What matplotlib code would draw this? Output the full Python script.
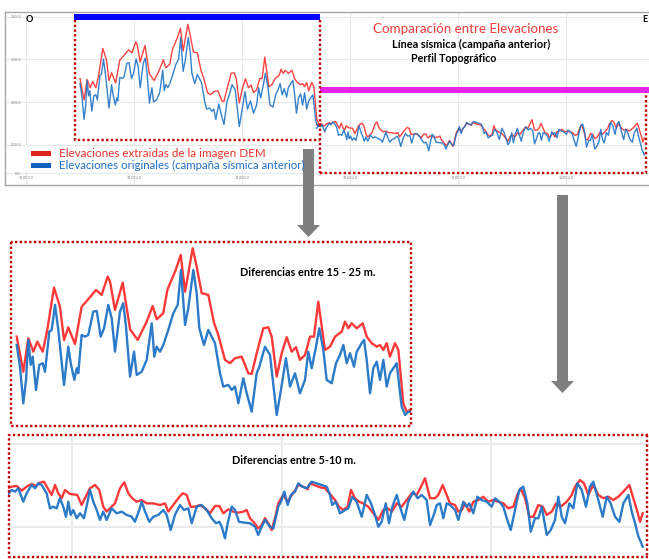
import matplotlib
matplotlib.use("Agg")
import matplotlib.pyplot as plt
from matplotlib.patches import Rectangle, Polygon

plt.rcParams['font.family'] = ['Lato', 'DejaVu Sans']

# ---------------- data (distance, elevation m) ----------------
# Segment A (western part) - DEM elevations (red)
seg_a_dem = [(11100, 277.6), (11107.5, 252.4), (11113.2, 276.4), (11118.8, 266.8), (11123.4, 274.0),
             (11129.5, 266.8), (11134.7, 282.4), (11142.3, 312.8), (11149.1, 299.1), (11153.7, 275.2),
             (11158.5, 284.3), (11166.1, 272.3), (11173.7, 299.1), (11181.2, 304.5), (11190.0, 311.1),
             (11196.4, 307.6), (11203.2, 320.7), (11205.9, 317.1), (11211.5, 296.8), (11220.3, 316.4),
             (11228.6, 282.9), (11237.3, 275.2), (11247.5, 288.4), (11254.3, 299.6), (11258.8, 290.1),
             (11266.3, 294.4), (11270.9, 311.1), (11280.4, 325.5), (11286.1, 336.3), (11291.0, 309.9),
             (11299.7, 341.1), (11304.2, 327.9), (11309.9, 308.8), (11317.4, 307.6), (11323.9, 287.4),
             (11328.7, 278.8), (11336.3, 260.9), (11342.0, 258.5), (11347.7, 262.1), (11355.3, 263.2),
             (11362.8, 251.3), (11366.6, 250.8), (11372.3, 265.7), (11379.8, 283.6), (11385.5, 284.3),
             (11389.3, 277.6), (11395.0, 248.9), (11400.7, 265.7), (11406.3, 277.2), (11412.0, 266.8),
             (11416.9, 270.0), (11421.4, 260.9), (11427.1, 264.4), (11432.8, 277.6), (11437.3, 277.6),
             (11442.2, 302.7), (11449.8, 268.0), (11455.5, 270.4), (11461.2, 277.6), (11468.7, 281.2),
             (11472.5, 288.4), (11476.2, 283.6), (11480.1, 287.2), (11485.8, 283.6), (11492.6, 287.2),
             (11497.1, 277.6), (11502.8, 272.9), (11508.5, 270.4), (11512.2, 271.6), (11516.0, 268.0),
             (11519.8, 272.9), (11523.5, 263.2), (11529.2, 272.9), (11533.0, 268.0), (11538.6, 229.7),
             (11542.5, 223.7), (11546.2, 224.9)]

# Segment A - original survey elevations (blue)
seg_a_orig = [(11100, 271.6), (11103.7, 256.0), (11107.5, 229.7), (11110.6, 246.5), (11113.2, 275.2),
              (11115.9, 257.3), (11118.2, 263.2), (11121.9, 239.3), (11125.6, 257.3), (11129.5, 258.5),
              (11132.1, 252.4), (11137.0, 281.2), (11139.7, 282.4), (11143.5, 300.4), (11147.2, 282.4),
              (11153.7, 242.9), (11158.5, 270.4), (11161.3, 258.5), (11165.4, 246.5), (11168.1, 254.9),
              (11169.9, 251.3), (11173.7, 278.8), (11177.5, 277.6), (11181.2, 278.8), (11186.9, 295.6),
              (11190.8, 296.1), (11195.3, 277.6), (11199.1, 283.6), (11203.9, 300.4), (11207.8, 290.8),
              (11211.5, 266.8), (11217.2, 295.6), (11220.9, 301.6), (11224.0, 284.8), (11228.6, 248.9),
              (11233.1, 266.8), (11236.2, 250.1), (11241.8, 252.4), (11247.5, 260.9), (11253.2, 287.2),
              (11256.1, 263.2), (11258.8, 270.4), (11262.6, 266.8), (11266.3, 271.6), (11272.0, 282.4),
              (11277.7, 294.4), (11282.7, 300.4), (11286.4, 325.5), (11291.0, 286.0), (11294.7, 298.0),
              (11300.4, 325.5), (11304.2, 308.8), (11307.2, 283.6), (11312.5, 271.6), (11317.4, 282.4),
              (11323.1, 275.2), (11325.0, 272.9), (11330.7, 251.3), (11334.4, 241.7), (11340.1, 242.9),
              (11344.0, 239.3), (11347.7, 241.7), (11351.5, 229.7), (11357.1, 247.7), (11361.0, 236.9),
              (11366.6, 223.7), (11372.3, 251.3), (11375.3, 256.0), (11381.7, 270.4), (11387.4, 264.4),
              (11395.0, 221.3), (11399.5, 238.1), (11405.5, 262.1), (11410.1, 241.7), (11415.7, 251.3),
              (11421.4, 236.9), (11427.1, 246.5), (11430.8, 266.8), (11434.7, 254.9), (11439.6, 270.4),
              (11443.3, 283.6), (11447.9, 268.0), (11451.7, 246.5), (11457.4, 244.1), (11462.3, 258.5),
              (11466.8, 264.4), (11470.6, 271.6), (11474.4, 258.5), (11478.2, 265.7), (11482.7, 256.0),
              (11485.8, 266.8), (11491.4, 272.9), (11494.1, 275.2), (11497.1, 260.9), (11500.9, 236.9),
              (11504.6, 254.9), (11508.5, 259.6), (11512.2, 246.5), (11516.0, 260.9), (11519.8, 241.7),
              (11523.5, 251.3), (11527.3, 254.9), (11531.1, 258.5), (11536.8, 227.3), (11540.6, 221.3),
              (11544.3, 223.7), (11546.2, 223.7)]

# Segment B (eastern part) - DEM elevations (red)
seg_b_dem = [(11537.9, 223.2), (11542.1, 224.2), (11546.9, 224.6), (11551.7, 221.8), (11556.4, 224.2),
             (11561.2, 225.8), (11565.3, 224.6), (11569.1, 226.6), (11573.0, 227.2), (11577.1, 222.6),
             (11580.3, 219.2), (11583.5, 225.2), (11586.6, 220.2), (11589.9, 217.2), (11593.0, 222.2),
             (11597.8, 219.8), (11604.8, 219.2), (11609.0, 213.1), (11612.1, 217.2), (11616.9, 223.2),
             (11621.7, 225.2), (11625.8, 222.2), (11629.6, 212.1), (11632.9, 209.1), (11636.0, 211.1),
             (11640.8, 214.1), (11645.6, 223.2), (11649.7, 226.8), (11653.5, 220.2), (11657.3, 217.2),
             (11661.5, 215.1), (11666.3, 216.1), (11671.1, 214.1), (11677.4, 214.1), (11683.8, 213.1),
             (11688.6, 214.1), (11691.7, 209.1), (11696.5, 213.1), (11701.3, 217.2), (11705.5, 220.2),
             (11709.3, 219.2), (11713.1, 212.1), (11717.2, 212.1), (11722.0, 213.1), (11726.8, 211.1),
             (11731.6, 208.1), (11736.4, 212.5), (11740.5, 212.5), (11744.3, 208.1), (11749.1, 210.5),
             (11753.8, 209.1), (11758.6, 208.5), (11763.4, 209.1), (11766.6, 210.1), (11769.8, 205.1),
             (11773.9, 202.4), (11777.7, 199.0), (11781.0, 201.0), (11784.1, 205.1), (11787.3, 202.1),
             (11790.5, 198.0), (11793.7, 205.1), (11796.8, 214.1), (11801.6, 219.2), (11805.8, 215.1),
             (11809.6, 219.2), (11812.8, 221.8), (11815.9, 225.2), (11820.7, 224.2), (11824.9, 222.6),
             (11827.1, 226.2), (11831.2, 225.2), (11836.7, 223.8), (11841.5, 223.2), (11846.2, 219.8),
             (11851.0, 216.1), (11854.8, 212.1), (11858.9, 210.1), (11863.1, 212.1), (11866.3, 222.2),
             (11870.1, 217.2), (11873.9, 215.1), (11878.0, 214.1), (11882.8, 212.1), (11887.6, 208.1),
             (11892.4, 204.1), (11897.2, 210.1), (11901.4, 211.1), (11905.2, 209.1), (11910.0, 214.1),
             (11914.7, 212.1), (11919.5, 216.1), (11924.3, 220.2), (11929.1, 219.2), (11933.2, 224.2),
             (11937.0, 229.3), (11941.8, 217.2), (11946.6, 217.2), (11949.7, 219.2), (11953.9, 225.2),
             (11957.1, 220.2), (11960.9, 214.1), (11965.7, 213.1), (11968.8, 209.1), (11972.1, 210.1),
             (11975.2, 214.1), (11979.3, 209.1), (11983.2, 215.1), (11987.9, 216.1), (11992.7, 218.1),
             (11997.5, 215.1), (12002.3, 216.1), (12007.0, 215.1), (12011.8, 214.1), (12016.6, 211.1),
             (12021.4, 212.1), (12025.2, 219.2), (12028.4, 223.2), (12032.6, 217.2), (12036.7, 206.0),
             (12040.5, 206.0), (12045.3, 213.1), (12049.5, 212.1), (12053.3, 207.1), (12058.1, 209.1),
             (12062.2, 214.1), (12066.7, 212.1), (12072.4, 215.1), (12077.2, 219.2), (12080.3, 224.2),
             (12085.1, 228.2), (12088.9, 226.2), (12093.0, 219.2), (12097.8, 225.2), (12102.6, 219.2),
             (12107.4, 217.2), (12112.1, 218.1), (12116.9, 216.1), (12121.7, 218.1), (12126.5, 221.2),
             (12132.2, 225.2), (12136.0, 217.2), (12139.9, 209.1), (12142.4, 203.0), (12145.0, 208.1)]

# Segment B - original survey elevations (blue)
seg_b_orig = [(11537.9, 219.2), (11542.1, 222.2), (11545.3, 221.2), (11548.4, 223.2), (11553.2, 215.1),
              (11556.4, 220.2), (11561.2, 225.2), (11564.4, 223.2), (11567.5, 226.2), (11570.8, 225.2),
              (11575.5, 220.2), (11578.7, 211.1), (11581.8, 212.1), (11585.1, 211.1), (11588.2, 217.2),
              (11591.4, 212.1), (11594.0, 206.0), (11596.2, 215.1), (11598.5, 207.1), (11601.0, 210.1),
              (11604.2, 205.1), (11607.4, 208.1), (11611.2, 205.1), (11614.3, 214.1), (11616.9, 222.2),
              (11620.1, 215.1), (11623.3, 210.1), (11626.5, 204.1), (11629.6, 209.1), (11632.9, 204.1),
              (11637.6, 211.1), (11642.4, 208.1), (11647.2, 209.1), (11652.0, 207.1), (11656.8, 206.0),
              (11659.9, 203.0), (11664.0, 210.1), (11666.3, 215.1), (11669.5, 209.1), (11673.6, 203.0),
              (11677.4, 206.0), (11682.2, 207.1), (11687.0, 210.1), (11690.2, 207.1), (11694.0, 198.0),
              (11698.1, 207.1), (11702.9, 213.1), (11706.7, 210.1), (11710.8, 211.1), (11714.1, 202.1),
              (11718.9, 212.1), (11723.6, 213.1), (11728.4, 210.1), (11733.2, 205.1), (11737.3, 202.1),
              (11740.5, 203.0), (11742.8, 200.0), (11745.9, 193.0), (11748.5, 202.1), (11752.3, 212.1),
              (11755.5, 210.1), (11759.3, 203.0), (11765.0, 202.4), (11769.8, 202.1), (11774.6, 200.0),
              (11777.7, 195.0), (11780.3, 199.0), (11784.1, 204.1), (11788.9, 200.0), (11792.1, 199.0),
              (11796.8, 212.1), (11799.4, 215.1), (11802.6, 221.2), (11805.8, 213.1), (11809.0, 219.2),
              (11812.8, 221.2), (11815.9, 226.2), (11819.8, 224.2), (11824.0, 223.2), (11828.7, 227.2),
              (11833.5, 226.2), (11838.3, 225.2), (11843.1, 224.2), (11846.2, 219.2), (11848.4, 213.1),
              (11851.7, 215.1), (11855.8, 208.1), (11860.6, 210.1), (11863.7, 211.1), (11867.5, 218.1),
              (11871.7, 215.1), (11876.5, 206.0), (11881.3, 219.2), (11885.4, 214.1), (11889.2, 207.1),
              (11892.4, 200.0), (11895.6, 203.0), (11899.5, 214.1), (11902.6, 202.1), (11905.8, 212.1),
              (11910.0, 219.2), (11913.1, 212.1), (11917.2, 204.1), (11921.0, 215.1), (11925.8, 221.2),
              (11930.0, 217.2), (11933.9, 219.2), (11938.6, 216.1), (11941.8, 201.0), (11945.9, 208.1),
              (11948.2, 213.1), (11951.3, 214.1), (11954.5, 205.1), (11957.7, 214.1), (11960.9, 213.1),
              (11965.7, 210.1), (11968.8, 204.1), (11973.6, 215.1), (11976.9, 212.1), (11979.3, 214.1),
              (11983.2, 208.1), (11987.0, 218.1), (11991.2, 216.1), (11996.0, 215.1), (12000.7, 212.1),
              (12003.9, 217.2), (12008.0, 215.1), (12011.8, 212.1), (12015.6, 204.1), (12018.9, 198.0),
              (12023.0, 210.1), (12027.1, 222.2), (12030.9, 224.2), (12034.8, 214.1), (12038.0, 197.0),
              (12042.1, 205.1), (12045.3, 205.1), (12048.5, 212.1), (12053.3, 195.0), (12057.1, 198.0),
              (12061.2, 204.1), (12064.4, 218.1), (12067.6, 206.0), (12070.8, 202.1), (12074.9, 214.1),
              (12078.7, 211.1), (12082.5, 226.2), (12086.7, 222.2), (12090.8, 212.1), (12094.6, 224.2),
              (12097.8, 227.2), (12102.6, 216.1), (12106.8, 206.0), (12110.6, 218.1), (12114.4, 214.1),
              (12118.6, 206.0), (12122.7, 203.0), (12126.5, 214.1), (12131.3, 219.2), (12134.5, 209.1),
              (12137.7, 202.1), (12140.9, 194.0), (12143.1, 190.9), (12145.0, 187.9)]

x_ticks_top = [11000, 11200, 11400, 11600, 11800, 12000]
x_tick_labels_top = ["11000.0", "11200.0", "11400.0", "11600.0", "11800.0", "12000.0"]
y_ticks_top = [350, 300, 250, 200, 166.8]
y_tick_labels_top = ["350.0", "300.0", "250.0", "200.0", "0.0"]

legend_labels = ["Elevaciones extraidas de la imagen DEM",
                 "Elevaciones originales (campaña sísmica anterior)"]

RED = '#ff2e2e'
BLUE = '#1f74c6'

# ---------------- layout ----------------
W, H = 649, 559
fig = plt.figure(figsize=(W / 100, H / 100), dpi=100)
fig.patch.set_facecolor('white')


def px_axes(x0, y0, x1, y1):
    return fig.add_axes([x0 / W, 1 - y1 / H, (x1 - x0) / W, (y1 - y0) / H])


def xs(seg):
    return [p[0] for p in seg]


def ys(seg):
    return [p[1] for p in seg]


# ---- top overview chart ----
ax = px_axes(5, 12, 649, 185)
ax.set_xlim(10961.1, 12153.7)
ax.set_ylim(152.8, 355.5)
ax.set_xticks(x_ticks_top)
ax.set_xticklabels(x_tick_labels_top)
ax.set_yticks(y_ticks_top)
ax.set_yticklabels(y_tick_labels_top)
ax.grid(True, color='#e8e8e8', lw=0.8)
ax.set_axisbelow(True)
ax.tick_params(length=0, labelsize=3.0, labelcolor='#8a8a8a')
ax.tick_params(axis='y', pad=-11.5)
ax.tick_params(axis='x', pad=-6.5)
for s in ['top', 'left', 'bottom']:
    ax.spines[s].set_color('#a8a8a8')
    ax.spines[s].set_linewidth(1.0)
ax.spines['right'].set_visible(False)
for seg in (seg_a_dem, seg_b_dem):
    ax.plot(xs(seg), ys(seg), color=RED, lw=1.0, alpha=0.9)
for seg in (seg_a_orig, seg_b_orig):
    ax.plot(xs(seg), ys(seg), color=BLUE, lw=1.0, alpha=0.9)

# ---- middle zoom (segment A) ----
axm = px_axes(10, 241, 412, 426)
axm.set_xlim(11092.4, 11548.5)
axm.set_ylim(213.4, 346.3)
axm.axis('off')
axm.plot(xs(seg_a_dem), ys(seg_a_dem), color=RED, lw=1.7, alpha=0.95)
axm.plot(xs(seg_a_orig), ys(seg_a_orig), color=BLUE, lw=1.7, alpha=0.95)

# ---- bottom zoom (segment B) ----
axb = px_axes(8, 434, 649, 557)
axb.set_xlim(11538.6, 12151.0)
axb.set_ylim(181.7, 256.0)
axb.set_xticks([11600, 11800, 12000])
axb.set_yticks([200, 250])
axb.grid(True, color='#ebebeb', lw=1.4)
axb.set_axisbelow(True)
axb.tick_params(length=0, labelbottom=False, labelleft=False)
for s in axb.spines.values():
    s.set_visible(False)
axb.plot(xs(seg_b_dem), ys(seg_b_dem), color=RED, lw=1.7, alpha=0.95)
axb.plot(xs(seg_b_orig), ys(seg_b_orig), color=BLUE, lw=1.7, alpha=0.95)

# ---- overlay for annotations (pixel coordinates) ----
ov = fig.add_axes([0, 0, 1, 1])
ov.set_xlim(0, W)
ov.set_ylim(H, 0)
ov.axis('off')
ov.patch.set_visible(False)

# legend
ov.add_patch(Rectangle((24, 146), 290, 25, facecolor='white', edgecolor='none'))
ov.add_patch(Rectangle((31, 151), 20, 4.5, facecolor='#e0231d', edgecolor='none'))
ov.add_patch(Rectangle((31, 163), 20, 4.5, facecolor='#0f63c0', edgecolor='none'))
ov.text(59, 153.5, legend_labels[0], color='#e8352c', fontsize=8.4, va='center', ha='left')
ov.text(59, 165.5, legend_labels[1], color='#1f6fc6', fontsize=8.3, va='center', ha='left')

# bars
ov.add_patch(Rectangle((74, 14), 246, 6, facecolor='#0000ff', edgecolor='none'))
ov.add_patch(Rectangle((320, 86.5), 329, 6.3, facecolor='#e426e4', edgecolor='none'))

# dotted boxes
DOT = dict(color='#c00000', lw=1.7, linestyle=(0, (1, 1)), solid_capstyle='butt')
ov.plot([75, 75, 320], [20, 139.5, 139.5], **DOT)
ov.plot([320, 320], [20, 173], **DOT)
ov.plot([320, 645.5, 645.5], [173, 173, 92.5], **DOT)
ov.plot([10.5, 10.5, 411, 411, 10.5], [242, 426, 426, 242, 242], **DOT)
ov.plot([648, 8.5, 8.5, 648], [434.5, 434.5, 557, 557], **DOT)
ov.plot([646.5, 646.5], [434.5, 557], **DOT)

# arrows
GRAY = '#7f7f7f'
ov.add_patch(Polygon([(303, 149), (314, 149), (314, 225), (320, 225), (308.5, 237),
                      (297, 225), (303, 225)], closed=True, facecolor=GRAY, edgecolor='none'))
ov.add_patch(Polygon([(557, 195), (568, 195), (568, 381), (574, 381), (562.5, 393),
                      (551, 381), (557, 381)], closed=True, facecolor=GRAY, edgecolor='none'))

# texts
ov.text(29.5, 20, "O", fontsize=6.5, fontweight='bold', ha='center', va='center', color='black')
ov.text(645, 20, "E", fontsize=6.5, fontweight='bold', ha='center', va='center', color='black')
ov.text(466, 29, "Comparación entre Elevaciones", color='#f23b3b', fontsize=9.6,
        ha='center', va='center')
ov.text(471, 44, "Línea sísmica (campaña anterior)", color='black', fontsize=7.9,
        fontweight='bold', ha='center', va='center')
ov.text(453.5, 58, "Perfil Topográfico", color='black', fontsize=7.7,
        fontweight='bold', ha='center', va='center')
ov.text(307.5, 272, "Diferencias entre 15 - 25 m.", color='black', fontsize=7.8,
        fontweight='bold', ha='center', va='center')
ov.text(294, 460, "Diferencias entre 5-10 m.", color='black', fontsize=7.8,
        fontweight='bold', ha='center', va='center')

fig.savefig('out.png', dpi=100, facecolor='white')
